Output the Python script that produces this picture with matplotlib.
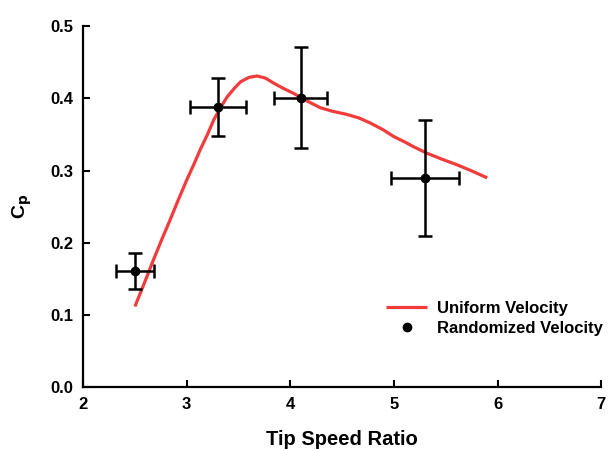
import matplotlib
matplotlib.use("Agg")
import matplotlib.pyplot as plt

plt.rcParams['font.family'] = ['Liberation Sans', 'DejaVu Sans']
plt.rcParams['font.weight'] = 'bold'

# Uniform velocity curve
tsr_uniform = [2.50, 2.59, 2.68, 2.76, 2.84, 2.92, 3.00, 3.07, 3.13, 3.20, 3.26, 3.33,
               3.39, 3.46, 3.52, 3.60, 3.68, 3.76, 3.84, 3.93, 4.03, 4.09, 4.18,
               4.29, 4.41, 4.54, 4.66, 4.77, 4.89, 5.00, 5.10, 5.19, 5.32, 5.46,
               5.61, 5.76, 5.90]
cp_uniform = [0.112, 0.144, 0.177, 0.205, 0.232, 0.260, 0.287, 0.309, 0.329, 0.350,
              0.370, 0.388, 0.402, 0.414, 0.423, 0.429, 0.431, 0.428, 0.421, 0.414,
              0.407, 0.402, 0.395, 0.387, 0.382, 0.378, 0.373, 0.366, 0.357, 0.347,
              0.340, 0.333, 0.324, 0.316, 0.308, 0.299, 0.290]

# Randomized velocity points with error bars
tsr_random = [2.50, 3.30, 4.10, 5.30]
cp_random = [0.161, 0.388, 0.401, 0.290]
tsr_err = [0.185, 0.27, 0.255, 0.325]
cp_err = [0.025, 0.04, 0.07, 0.08]

fig = plt.figure(figsize=(6.11, 4.5), dpi=100)
ax = fig.add_axes([0.136, 0.139, 0.848, 0.803])

ax.plot(tsr_uniform, cp_uniform, '-', color='#f23c3c', lw=2.3,
        label='Uniform Velocity', zorder=2, solid_capstyle='butt')
ax.errorbar(tsr_random, cp_random, xerr=tsr_err, yerr=cp_err, fmt='o',
            color='black', ms=6, elinewidth=1.8, capsize=5, capthick=1.8,
            zorder=3)
ax.plot([], [], 'o', color='black', ms=6, label='Randomized Velocity')

ax.set_xlim(2, 7)
ax.set_ylim(0, 0.5)
ax.set_xticks([2, 3, 4, 5, 6, 7])
ax.set_yticks([0.0, 0.1, 0.2, 0.3, 0.4, 0.5])
ax.set_yticklabels(['0.0', '0.1', '0.2', '0.3', '0.4', '0.5'])
ax.tick_params(direction='in', length=5, width=1.5, labelsize=12, pad=7)
for s in ['top', 'right']:
    ax.spines[s].set_visible(False)
for s in ['left', 'bottom']:
    ax.spines[s].set_linewidth(1.6)

ax.set_xlabel('Tip Speed Ratio', fontsize=14.5, fontweight='bold', labelpad=13)
ax.set_ylabel('C$_\\mathbf{p}$', fontsize=14, fontweight='bold', labelpad=12)

ax.legend(loc='lower right', bbox_to_anchor=(1.033, 0.10), frameon=False,
          fontsize=12, handlelength=2.5, handletextpad=0.6, labelspacing=0.3)

fig.savefig('out.png', dpi=100)
